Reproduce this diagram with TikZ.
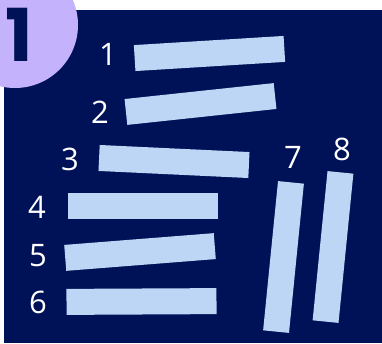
\documentclass[tikz,border=0pt]{standalone}
\usepackage{fontspec}
\setmainfont{Open Sans}
\newfontfamily\badgefont{Poppins}
\usetikzlibrary{positioning}
\definecolor{navy}{RGB}{0,18,87}
\definecolor{lila}{RGB}{196,178,252}
\definecolor{palo}{RGB}{189,214,245}

\begin{document}
\begin{tikzpicture}[x=1pt, y=1pt,
    stick/.style={fill=palo, minimum width=150pt, minimum height=26pt, inner sep=0pt},
    num/.style={text=white, font=\fontsize{31}{31}\selectfont, inner sep=0pt}]
\useasboundingbox (0,0) rectangle (382,343);
% fondo
\fill[white] (0,0) rectangle (382,343);
\fill[navy] (4,0) rectangle (382,333);
% insignia
\fill[lila] (15,318) circle (63);
\node[text=navy, font=\badgefont\bfseries\fontsize{73}{73}\selectfont, inner sep=0pt] (badge) at (19.5,308.5) {1};
% palitos
\foreach \n/\x/\y/\a in {1/209.5/289.5/3.5, 2/200.5/239/6.1, 3/174/181.5/-2.7, 4/143/137/0,
                        5/140/91/4.5, 6/141.5/41.5/0.3, 7/283.5/86/84.3, 8/333/96/84.3} {
    \node[stick, rotate=\a] (s\n) at (\x,\y) {};
}
% numeros
\foreach \n/\x/\y in {1/108/289, 2/100/231, 3/70/184, 4/37/136, 5/38/87, 6/38/41, 7/293/186, 8/342/194} {
    \node[num] (l\n) at (\x,\y) {\n};
}
\end{tikzpicture}
\end{document}
